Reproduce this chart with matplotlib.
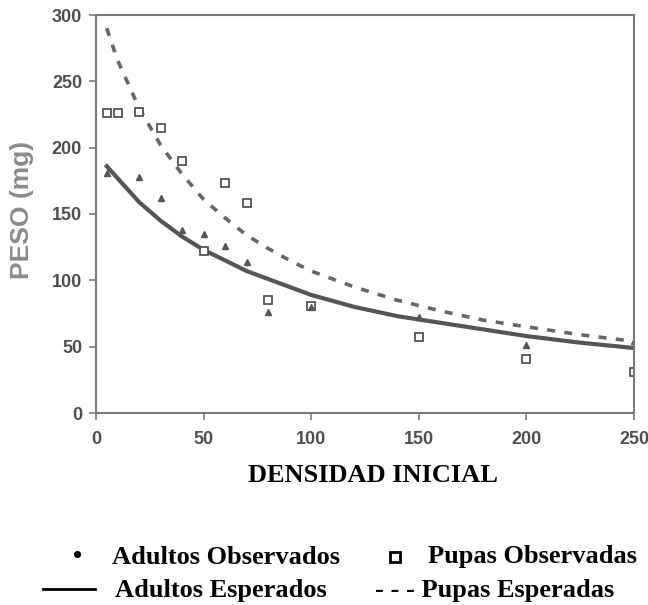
import matplotlib
matplotlib.use('Agg')
import matplotlib.pyplot as plt
from matplotlib.lines import Line2D

pupas_x = [5, 10, 20, 30, 40, 50, 60, 70, 80, 100, 150, 200, 250]
pupas_y = [226, 226, 227, 215, 190, 122, 173, 158, 85, 81, 57, 41, 31]

adultos_x = [5, 20, 30, 40, 50, 60, 70, 80, 100, 150, 200, 250]
adultos_y = [181, 178, 162, 138, 135, 126, 114, 76, 80, 72, 51, 54]

# expected (fitted) curves
curva_x = [5, 10, 20, 30, 40, 50, 60, 70, 80, 90, 100, 120, 140, 160, 180, 200, 225, 250]
adultos_esp = [186, 177, 159, 145, 133, 123, 115, 107, 101, 95, 89, 80, 73, 68, 63, 58, 53, 49]
pupas_esp = [290, 266, 230, 202, 180, 161, 147, 134, 124, 115, 107, 95, 85, 77, 70, 65, 59, 54]

x_ticks = [0, 50, 100, 150, 200, 250]
y_ticks = [0, 50, 100, 150, 200, 250, 300]

AXIS_GRAY = '#7a7a7a'
TICK_GRAY = '#4f4f4f'
W, H = 648., 605.

def fx(px):  # pixel -> figure fraction
    return px / W

def fy(py):
    return 1 - py / H

fig = plt.figure(figsize=(6.48, 6.05), dpi=100)
ax = fig.add_axes([fx(96), fy(413), (634 - 96) / W, (413 - 15) / H])

ax.plot(curva_x, pupas_esp, linestyle=(0, (2.2, 2.6)), color='#666666', lw=2.6)
ax.plot(curva_x, adultos_esp, linestyle='-', color='#555555', lw=3.0)
ax.plot(pupas_x, pupas_y, linestyle='none', marker='s', ms=6, mfc='white',
        mec='#555555', mew=1.3)
ax.plot(adultos_x, adultos_y, linestyle='none', marker='^', ms=4.5,
        color='#555555')

ax.set_xlim(0, 250)
ax.set_ylim(0, 300)
ax.set_xticks(x_ticks)
ax.set_yticks(y_ticks)
for s in ax.spines.values():
    s.set_color(AXIS_GRAY)
    s.set_linewidth(1.5)
ax.tick_params(direction='out', length=5, width=1.2, color=AXIS_GRAY,
               labelcolor=TICK_GRAY, labelsize=13)
ax.tick_params(axis='x', pad=8)
ax.tick_params(axis='y', pad=5)
for lab in ax.get_xticklabels() + ax.get_yticklabels():
    lab.set_fontweight('bold')
    lab.set_family('Liberation Sans')

fig.text(fx(22), fy(210), 'PESO (mg)', rotation=90, ha='center', va='center',
         fontsize=19, fontweight='bold', color='#8a8a8a', family='Liberation Sans')

serif = dict(family=['Liberation Serif', 'DejaVu Serif'], fontweight='bold',
             fontsize=19, color='black')
fig.text(fx(373), fy(475), 'DENSIDAD INICIAL', ha='center', va='center', **serif)

# legend written as text, like the original
fig.text(fx(78), fy(557), '\u2022', ha='center', va='center', **serif)
fig.text(fx(112), fy(557), 'Adultos Observados', ha='left', va='center', **serif)
fig.lines.append(Line2D([fx(395)], [fy(557)], marker='s', ms=6.5,
                        mfc='white', mec='black', mew=2.0, transform=fig.transFigure))
fig.text(fx(428), fy(557), 'Pupas Observadas', ha='left', va='center', **serif)
fig.lines.append(Line2D([fx(43), fx(95)], [fy(589), fy(589)],
                        color='black', lw=2.0, transform=fig.transFigure))
fig.text(fx(115), fy(590), 'Adultos Esperados', ha='left', va='center', **serif)
fig.text(fx(375), fy(590), '- - - Pupas Esperadas', ha='left', va='center', **serif)

fig.savefig('out.png', dpi=100)
